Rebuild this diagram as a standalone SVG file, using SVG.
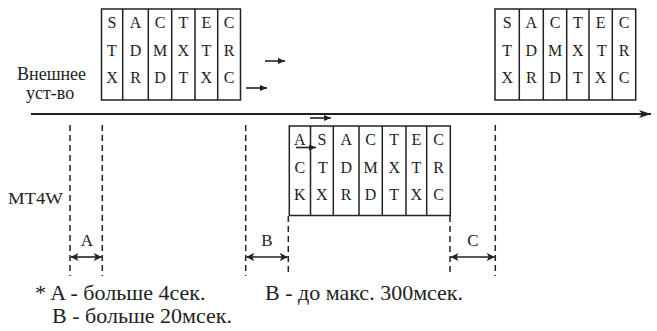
<svg xmlns="http://www.w3.org/2000/svg" width="657" height="331" viewBox="0 0 657 331">
<style>
text{font-family:'Liberation Serif',serif !important;fill:#222}
.l{font-size:16px;text-anchor:middle}
</style>
<defs>
<marker id="big" viewBox="0 0 12 8" refX="12" refY="4" markerWidth="12" markerHeight="8" markerUnits="userSpaceOnUse" orient="auto"><path d="M0,0 L12,4 L0,8 L3,4 Z" fill="#222"/></marker>
<marker id="sm" viewBox="0 0 7 6" refX="7" refY="3" markerWidth="7" markerHeight="6" markerUnits="userSpaceOnUse" orient="auto"><path d="M0,0 L7,3 L0,6 Z" fill="#222"/></marker>
<marker id="dh" viewBox="0 0 8 8" refX="8" refY="4" markerWidth="8" markerHeight="8" markerUnits="userSpaceOnUse" orient="auto-start-reverse"><path d="M0,0 L8,4 L0,8 L2,4 Z" fill="#222"/></marker>
</defs>

<g id="frame1">
<rect x="101.5" y="9" width="139" height="91" fill="#fff" stroke="#222" stroke-width="1.5"/>
<path d="M122.7,9V100M148.3,9V100M171.7,9V100M195,9V100M217.7,9V100" stroke="#222" stroke-width="1.5"/>
<text class="l" style="font-family:'Liberation Serif',serif !important" x="112" y="28">S</text>
<text class="l" style="font-family:'Liberation Serif',serif !important" x="112" y="56">T</text>
<text class="l" style="font-family:'Liberation Serif',serif !important" x="112" y="83">X</text>
<text class="l" style="font-family:'Liberation Serif',serif !important" x="135.5" y="28">A</text>
<text class="l" style="font-family:'Liberation Serif',serif !important" x="135.5" y="56">D</text>
<text class="l" style="font-family:'Liberation Serif',serif !important" x="135.5" y="83">R</text>
<text class="l" style="font-family:'Liberation Serif',serif !important" x="160" y="28">C</text>
<text class="l" style="font-family:'Liberation Serif',serif !important" x="160" y="56">M</text>
<text class="l" style="font-family:'Liberation Serif',serif !important" x="160" y="83">D</text>
<text class="l" style="font-family:'Liberation Serif',serif !important" x="183.3" y="28">T</text>
<text class="l" style="font-family:'Liberation Serif',serif !important" x="183.3" y="56">X</text>
<text class="l" style="font-family:'Liberation Serif',serif !important" x="183.3" y="83">T</text>
<text class="l" style="font-family:'Liberation Serif',serif !important" x="206.3" y="28">E</text>
<text class="l" style="font-family:'Liberation Serif',serif !important" x="206.3" y="56">T</text>
<text class="l" style="font-family:'Liberation Serif',serif !important" x="206.3" y="83">X</text>
<text class="l" style="font-family:'Liberation Serif',serif !important" x="229.2" y="28">C</text>
<text class="l" style="font-family:'Liberation Serif',serif !important" x="229.2" y="56">R</text>
<text class="l" style="font-family:'Liberation Serif',serif !important" x="229.2" y="83">C</text>
</g>

<g id="frame2">
<rect x="495" y="9" width="140.7" height="91" fill="#fff" stroke="#222" stroke-width="1.5"/>
<path d="M519.3,9V100M543.3,9V100M566.7,9V100M589,9V100M612.3,9V100" stroke="#222" stroke-width="1.5"/>
<text class="l" style="font-family:'Liberation Serif',serif !important" x="507.2" y="28">S</text>
<text class="l" style="font-family:'Liberation Serif',serif !important" x="507.2" y="56">T</text>
<text class="l" style="font-family:'Liberation Serif',serif !important" x="507.2" y="83">X</text>
<text class="l" style="font-family:'Liberation Serif',serif !important" x="531.3" y="28">A</text>
<text class="l" style="font-family:'Liberation Serif',serif !important" x="531.3" y="56">D</text>
<text class="l" style="font-family:'Liberation Serif',serif !important" x="531.3" y="83">R</text>
<text class="l" style="font-family:'Liberation Serif',serif !important" x="555" y="28">C</text>
<text class="l" style="font-family:'Liberation Serif',serif !important" x="555" y="56">M</text>
<text class="l" style="font-family:'Liberation Serif',serif !important" x="555" y="83">D</text>
<text class="l" style="font-family:'Liberation Serif',serif !important" x="577.8" y="28">T</text>
<text class="l" style="font-family:'Liberation Serif',serif !important" x="577.8" y="56">X</text>
<text class="l" style="font-family:'Liberation Serif',serif !important" x="577.8" y="83">T</text>
<text class="l" style="font-family:'Liberation Serif',serif !important" x="600.6" y="28">E</text>
<text class="l" style="font-family:'Liberation Serif',serif !important" x="602" y="56">T</text>
<text class="l" style="font-family:'Liberation Serif',serif !important" x="600.6" y="83">X</text>
<text class="l" style="font-family:'Liberation Serif',serif !important" x="624" y="28">C</text>
<text class="l" style="font-family:'Liberation Serif',serif !important" x="624" y="56">R</text>
<text class="l" style="font-family:'Liberation Serif',serif !important" x="624" y="83">C</text>
</g>

<g id="frame3">
<rect x="289.3" y="126" width="161" height="89.5" fill="#fff" stroke="#222" stroke-width="1.5"/>
<path d="M310.5,126V215.5M333.3,126V215.5M359,126V215.5M382.3,126V215.5M406,126V215.5M426.7,126V215.5" stroke="#222" stroke-width="1.5"/>
<text class="l" style="font-family:'Liberation Serif',serif !important" x="299.9" y="145">A</text>
<text class="l" style="font-family:'Liberation Serif',serif !important" x="299.9" y="173">C</text>
<text class="l" style="font-family:'Liberation Serif',serif !important" x="299.9" y="200">K</text>
<text class="l" style="font-family:'Liberation Serif',serif !important" x="321.9" y="145">S</text>
<text class="l" style="font-family:'Liberation Serif',serif !important" x="323" y="173">T</text>
<text class="l" style="font-family:'Liberation Serif',serif !important" x="321.9" y="200">X</text>
<text class="l" style="font-family:'Liberation Serif',serif !important" x="346.2" y="145">A</text>
<text class="l" style="font-family:'Liberation Serif',serif !important" x="346.2" y="173">D</text>
<text class="l" style="font-family:'Liberation Serif',serif !important" x="346.2" y="200">R</text>
<text class="l" style="font-family:'Liberation Serif',serif !important" x="370.6" y="145">C</text>
<text class="l" style="font-family:'Liberation Serif',serif !important" x="370.6" y="173">M</text>
<text class="l" style="font-family:'Liberation Serif',serif !important" x="370.6" y="200">D</text>
<text class="l" style="font-family:'Liberation Serif',serif !important" x="394.2" y="145">T</text>
<text class="l" style="font-family:'Liberation Serif',serif !important" x="394.2" y="173">X</text>
<text class="l" style="font-family:'Liberation Serif',serif !important" x="394.2" y="200">T</text>
<text class="l" style="font-family:'Liberation Serif',serif !important" x="416.4" y="145">E</text>
<text class="l" style="font-family:'Liberation Serif',serif !important" x="416.4" y="173">T</text>
<text class="l" style="font-family:'Liberation Serif',serif !important" x="416.4" y="200">X</text>
<text class="l" style="font-family:'Liberation Serif',serif !important" x="438.5" y="145">C</text>
<text class="l" style="font-family:'Liberation Serif',serif !important" x="438.5" y="173">R</text>
<text class="l" style="font-family:'Liberation Serif',serif !important" x="438.5" y="200">C</text>
</g>

<g id="labels">
<text style="font-family:'Liberation Serif',serif !important" x="17" y="80" font-size="18">Внешнее</text>
<text style="font-family:'Liberation Serif',serif !important" x="26" y="99" font-size="18">уст-во</text>
<text style="font-family:'Liberation Serif',serif !important" x="8" y="204" font-size="17" textLength="55" lengthAdjust="spacingAndGlyphs">MT4W</text>
<text class="l" style="font-family:'Liberation Serif',serif !important;font-size:17px" x="87" y="246">A</text>
<text class="l" style="font-family:'Liberation Serif',serif !important;font-size:17px" x="267" y="246">B</text>
<text class="l" style="font-family:'Liberation Serif',serif !important;font-size:17px" x="473" y="246">C</text>
<text style="font-family:'Liberation Serif',serif !important" x="35" y="300" font-size="22">* A - больше 4сек.</text>
<text style="font-family:'Liberation Serif',serif !important" x="265" y="300" font-size="22">B - до макс. 300мсек.</text>
<text style="font-family:'Liberation Serif',serif !important" x="52" y="323" font-size="22">B - больше 20мсек.</text>
</g>

<g id="connectors" stroke="#222" stroke-width="1.6" fill="none">
<line x1="31" y1="114" x2="651" y2="114" stroke-width="2" marker-end="url(#big)"/>
<line x1="265" y1="61" x2="285" y2="61" marker-end="url(#sm)"/>
<line x1="246" y1="88" x2="267" y2="88" marker-end="url(#sm)"/>
<line x1="310" y1="118" x2="331" y2="118" marker-end="url(#sm)"/>
<line x1="296" y1="147.5" x2="316" y2="147.5" marker-end="url(#sm)"/>
<path d="M70,125V276M102.3,125V276M245.7,125V276M288.3,216V276M450,216V276M495.3,125V276" stroke-width="1.5" stroke-dasharray="6,4"/>
<line x1="70.5" y1="257" x2="101.8" y2="257" marker-start="url(#dh)" marker-end="url(#dh)"/>
<line x1="246.2" y1="257" x2="287.8" y2="257" marker-start="url(#dh)" marker-end="url(#dh)"/>
<line x1="450.5" y1="257" x2="494.8" y2="257" marker-start="url(#dh)" marker-end="url(#dh)"/>
</g>
</svg>
